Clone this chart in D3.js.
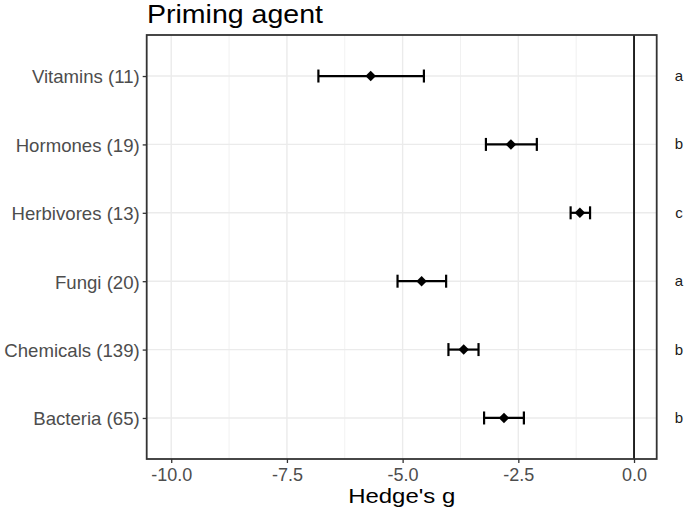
<!DOCTYPE html>
<html><head><meta charset="utf-8">
<script src="https://cdn.jsdelivr.net/npm/d3@7"></script>
<style>body{margin:0;background:#fff}svg{display:block}</style>
</head><body><svg id="c" width="685" height="511"></svg>
<script>
const categories = ["Vitamins (11)","Hormones (19)","Herbivores (13)","Fungi (20)","Chemicals (139)","Bacteria (65)"];
const estimates = [-5.69,-2.66,-1.17,-4.59,-3.68,-2.81];
const lower = [-6.82,-3.20,-1.37,-5.11,-4.01,-3.24];
const upper = [-4.54,-2.10,-0.95,-4.06,-3.36,-2.38];
const groups = ["a","b","c","a","b","b"];
const xTicks = [-10,-7.5,-5,-2.5,0];
const xTickLabels = ["-10.0","-7.5","-5.0","-2.5","0.0"];
const xMinor = [-8.75,-6.25,-3.75,-1.25];

const FONT = "Liberation Sans, Arial, sans-serif";
const svg = d3.select("#c");
const L=146.7,R=656.7,T=35,B=459;
const x = d3.scaleLinear().domain([-10.53,0.49]).range([L,R]);
const y = d3.scalePoint().domain(categories).range([T,B]).padding(0.6);

// grid
svg.append("g").selectAll("line").data(xMinor).join("line")
  .attr("x1",d=>x(d)).attr("x2",d=>x(d)).attr("y1",T).attr("y2",B)
  .attr("stroke","#ebebeb").attr("stroke-width",0.7);
svg.append("g").selectAll("line").data(xTicks).join("line")
  .attr("x1",d=>x(d)).attr("x2",d=>x(d)).attr("y1",T).attr("y2",B)
  .attr("stroke","#ebebeb").attr("stroke-width",1.4);
svg.append("g").selectAll("line").data(categories).join("line")
  .attr("x1",L).attr("x2",R).attr("y1",d=>y(d)).attr("y2",d=>y(d))
  .attr("stroke","#ebebeb").attr("stroke-width",1.4);

// zero line
svg.append("line").attr("x1",x(0)).attr("x2",x(0)).attr("y1",T).attr("y2",B)
  .attr("stroke","#000").attr("stroke-width",1.7);

// error bars
const g = svg.append("g");
categories.forEach((c,i)=>{
  const yy=y(c);
  g.append("line").attr("x1",x(lower[i])).attr("x2",x(upper[i])).attr("y1",yy).attr("y2",yy)
    .attr("stroke","#000").attr("stroke-width",2.2);
  [lower[i],upper[i]].forEach(v=>{
    g.append("line").attr("x1",x(v)).attr("x2",x(v)).attr("y1",yy-6.5).attr("y2",yy+6.5)
      .attr("stroke","#000").attr("stroke-width",2.2);
  });
  g.append("path").attr("transform",`translate(${x(estimates[i])},${yy})`)
    .attr("d",d3.symbol(d3.symbolDiamond2,70)).attr("fill","#000");
  svg.append("text").attr("x",679).attr("y",yy+5).attr("text-anchor","middle")
    .attr("font-family",FONT).attr("font-size",15).attr("fill","#1a1a1a")
    .text(groups[i]);
});

// border
svg.append("rect").attr("x",L).attr("y",T).attr("width",R-L).attr("height",B-T)
  .attr("fill","none").attr("stroke","#333").attr("stroke-width",1.8);

// axes
const xa = svg.append("g").attr("transform",`translate(0,${B})`)
  .call(d3.axisBottom(x).tickValues(xTicks).tickFormat((d,i)=>xTickLabels[i]).tickSizeInner(4).tickSizeOuter(0).tickPadding(5));
xa.select(".domain").remove();
xa.selectAll("line").attr("stroke","#333").attr("stroke-width",1.3);
xa.selectAll("text").attr("font-family",FONT).attr("font-size",18).attr("fill","#4d4d4d");

const ya = svg.append("g").attr("transform",`translate(${L},0)`)
  .call(d3.axisLeft(y).tickSizeInner(4).tickSizeOuter(0).tickPadding(3));
ya.select(".domain").remove();
ya.selectAll("line").attr("stroke","#333").attr("stroke-width",1.3);
ya.selectAll("text").attr("font-family",FONT).attr("font-size",18.6).attr("fill","#4d4d4d").attr("dy","0.37em");

svg.append("text").attr("x",(L+R)/2).attr("y",503).attr("text-anchor","middle")
  .attr("font-family",FONT).attr("font-size",21).attr("fill","#000")
  .attr("textLength",107).attr("lengthAdjust","spacingAndGlyphs").text("Hedge's g");
svg.append("text").attr("x",147).attr("y",23).attr("font-family",FONT)
  .attr("font-size",26.5).attr("fill","#000")
  .attr("textLength",176).attr("lengthAdjust","spacingAndGlyphs").text("Priming agent");
</script></body></html>
